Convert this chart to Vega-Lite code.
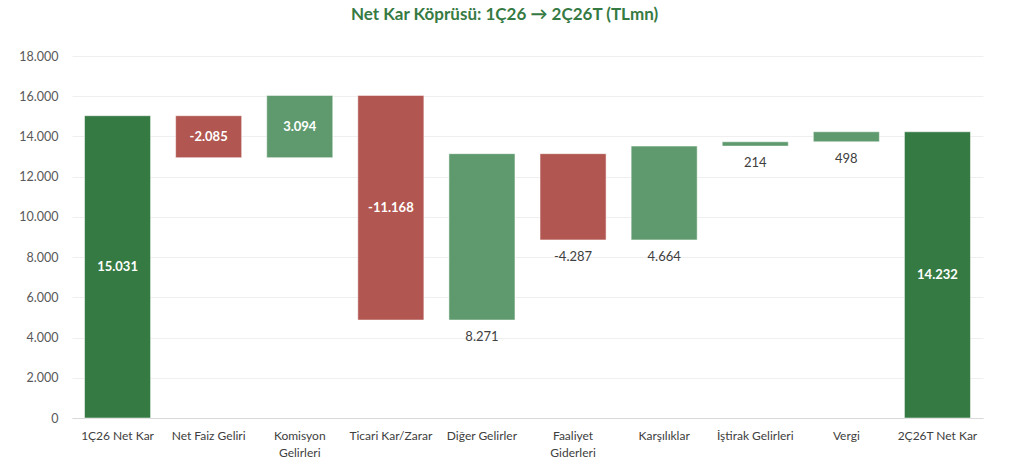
{
  "$schema": "https://vega.github.io/schema/vega-lite/v6.json",
  "autosize": {"type": "none"},
  "width": 911,
  "height": 362,
  "padding": {"left": 72, "top": 56, "right": 41, "bottom": 55},
  "title": {
    "text": "Net Kar Köprüsü: 1Ç26 → 2Ç26T (TLmn)",
    "color": "#367a43",
    "fontSize": 17,
    "fontWeight": "bold",
    "font": "Lato",
    "anchor": "middle",
    "dx": -23,
    "offset": 26
  },
  "data": {
    "values": [
      {"kalem": "1Ç26 Net Kar", "baslangic": 0, "bitis": 15031, "tutar": 15031, "tur": "Toplam"},
      {"kalem": "Net Faiz Geliri", "baslangic": 15031, "bitis": 12946, "tutar": -2085, "tur": "Azalış"},
      {"kalem": "Komisyon Gelirleri", "baslangic": 12946, "bitis": 16040, "tutar": 3094, "tur": "Artış"},
      {"kalem": "Ticari Kar/Zarar", "baslangic": 16040, "bitis": 4872, "tutar": -11168, "tur": "Azalış"},
      {"kalem": "Diğer Gelirler", "baslangic": 4872, "bitis": 13143, "tutar": 8271, "tur": "Artış"},
      {"kalem": "Faaliyet Giderleri", "baslangic": 13143, "bitis": 8856, "tutar": -4287, "tur": "Azalış"},
      {"kalem": "Karşılıklar", "baslangic": 8856, "bitis": 13520, "tutar": 4664, "tur": "Artış"},
      {"kalem": "İştirak Gelirleri", "baslangic": 13520, "bitis": 13734, "tutar": 214, "tur": "Artış"},
      {"kalem": "Vergi", "baslangic": 13734, "bitis": 14232, "tutar": 498, "tur": "Artış"},
      {"kalem": "2Ç26T Net Kar", "baslangic": 0, "bitis": 14232, "tutar": 14232, "tur": "Toplam"}
    ]
  },
  "encoding": {
    "x": {
      "field": "kalem",
      "type": "nominal",
      "sort": null,
      "title": null,
      "scale": {"paddingInner": 0.275, "paddingOuter": 0.1375},
      "axis": {
        "labelAngle": 0,
        "labelColor": "#404040",
        "labelFontSize": 12,
        "labelFont": "Lato",
        "labelPadding": 12,
        "labelLineHeight": 17,
        "ticks": false,
        "domainColor": "#d9d9d9",
        "labelExpr": "datum.value == 'Komisyon Gelirleri' ? ['Komisyon', 'Gelirleri'] : datum.value == 'Faaliyet Giderleri' ? ['Faaliyet', 'Giderleri'] : datum.value"
      }
    }
  },
  "layer": [
    {
      "mark": {"type": "bar", "stroke": "#ffffff", "strokeOpacity": 0.5, "strokeWidth": 1},
      "encoding": {
        "y": {
          "field": "baslangic",
          "type": "quantitative",
          "title": null,
          "scale": {"domain": [0, 18000], "nice": false},
          "axis": {
            "values": [0, 2000, 4000, 6000, 8000, 10000, 12000, 14000, 16000, 18000],
            "format": ",.0f",
            "domain": false,
            "ticks": false,
            "labelPadding": 14,
            "labelColor": "#595959",
            "labelFontSize": 12.5,
            "labelFont": "Lato",
            "gridColor": "#efefef"
          }
        },
        "y2": {"field": "bitis"},
        "color": {
          "field": "tur",
          "type": "nominal",
          "scale": {"domain": ["Toplam", "Artış", "Azalış"], "range": ["#367a43", "#5f9a6e", "#b15650"]},
          "legend": null
        }
      }
    },
    {
      "transform": [
        {"filter": {"field": "kalem", "oneOf": ["1Ç26 Net Kar", "Net Faiz Geliri", "Komisyon Gelirleri", "Ticari Kar/Zarar", "2Ç26T Net Kar"]}},
        {"fold": ["baslangic", "bitis"], "as": ["uc", "seviye"]}
      ],
      "mark": {"type": "text", "color": "#ffffff", "fontWeight": "bold", "fontSize": 13, "font": "Lato", "baseline": "middle"},
      "encoding": {
        "y": {"aggregate": "mean", "field": "seviye", "type": "quantitative"},
        "text": {"field": "tutar", "type": "quantitative", "format": ",.0f"}
      }
    },
    {
      "transform": [
        {"filter": {"field": "kalem", "oneOf": ["Diğer Gelirler", "Faaliyet Giderleri", "Karşılıklar", "İştirak Gelirleri", "Vergi"]}},
        {"fold": ["baslangic", "bitis"], "as": ["uc", "seviye"]}
      ],
      "mark": {"type": "text", "color": "#404040", "fontSize": 13, "font": "Lato", "baseline": "middle", "dy": 17},
      "encoding": {
        "y": {"aggregate": "min", "field": "seviye", "type": "quantitative"},
        "text": {"field": "tutar", "type": "quantitative", "format": ",.0f"}
      }
    }
  ],
  "config": {
    "view": {"stroke": null},
    "locale": {
      "number": {"decimal": ",", "thousands": ".", "grouping": [3], "currency": ["", " TL"], "minus": "-"}
    }
  }
}
